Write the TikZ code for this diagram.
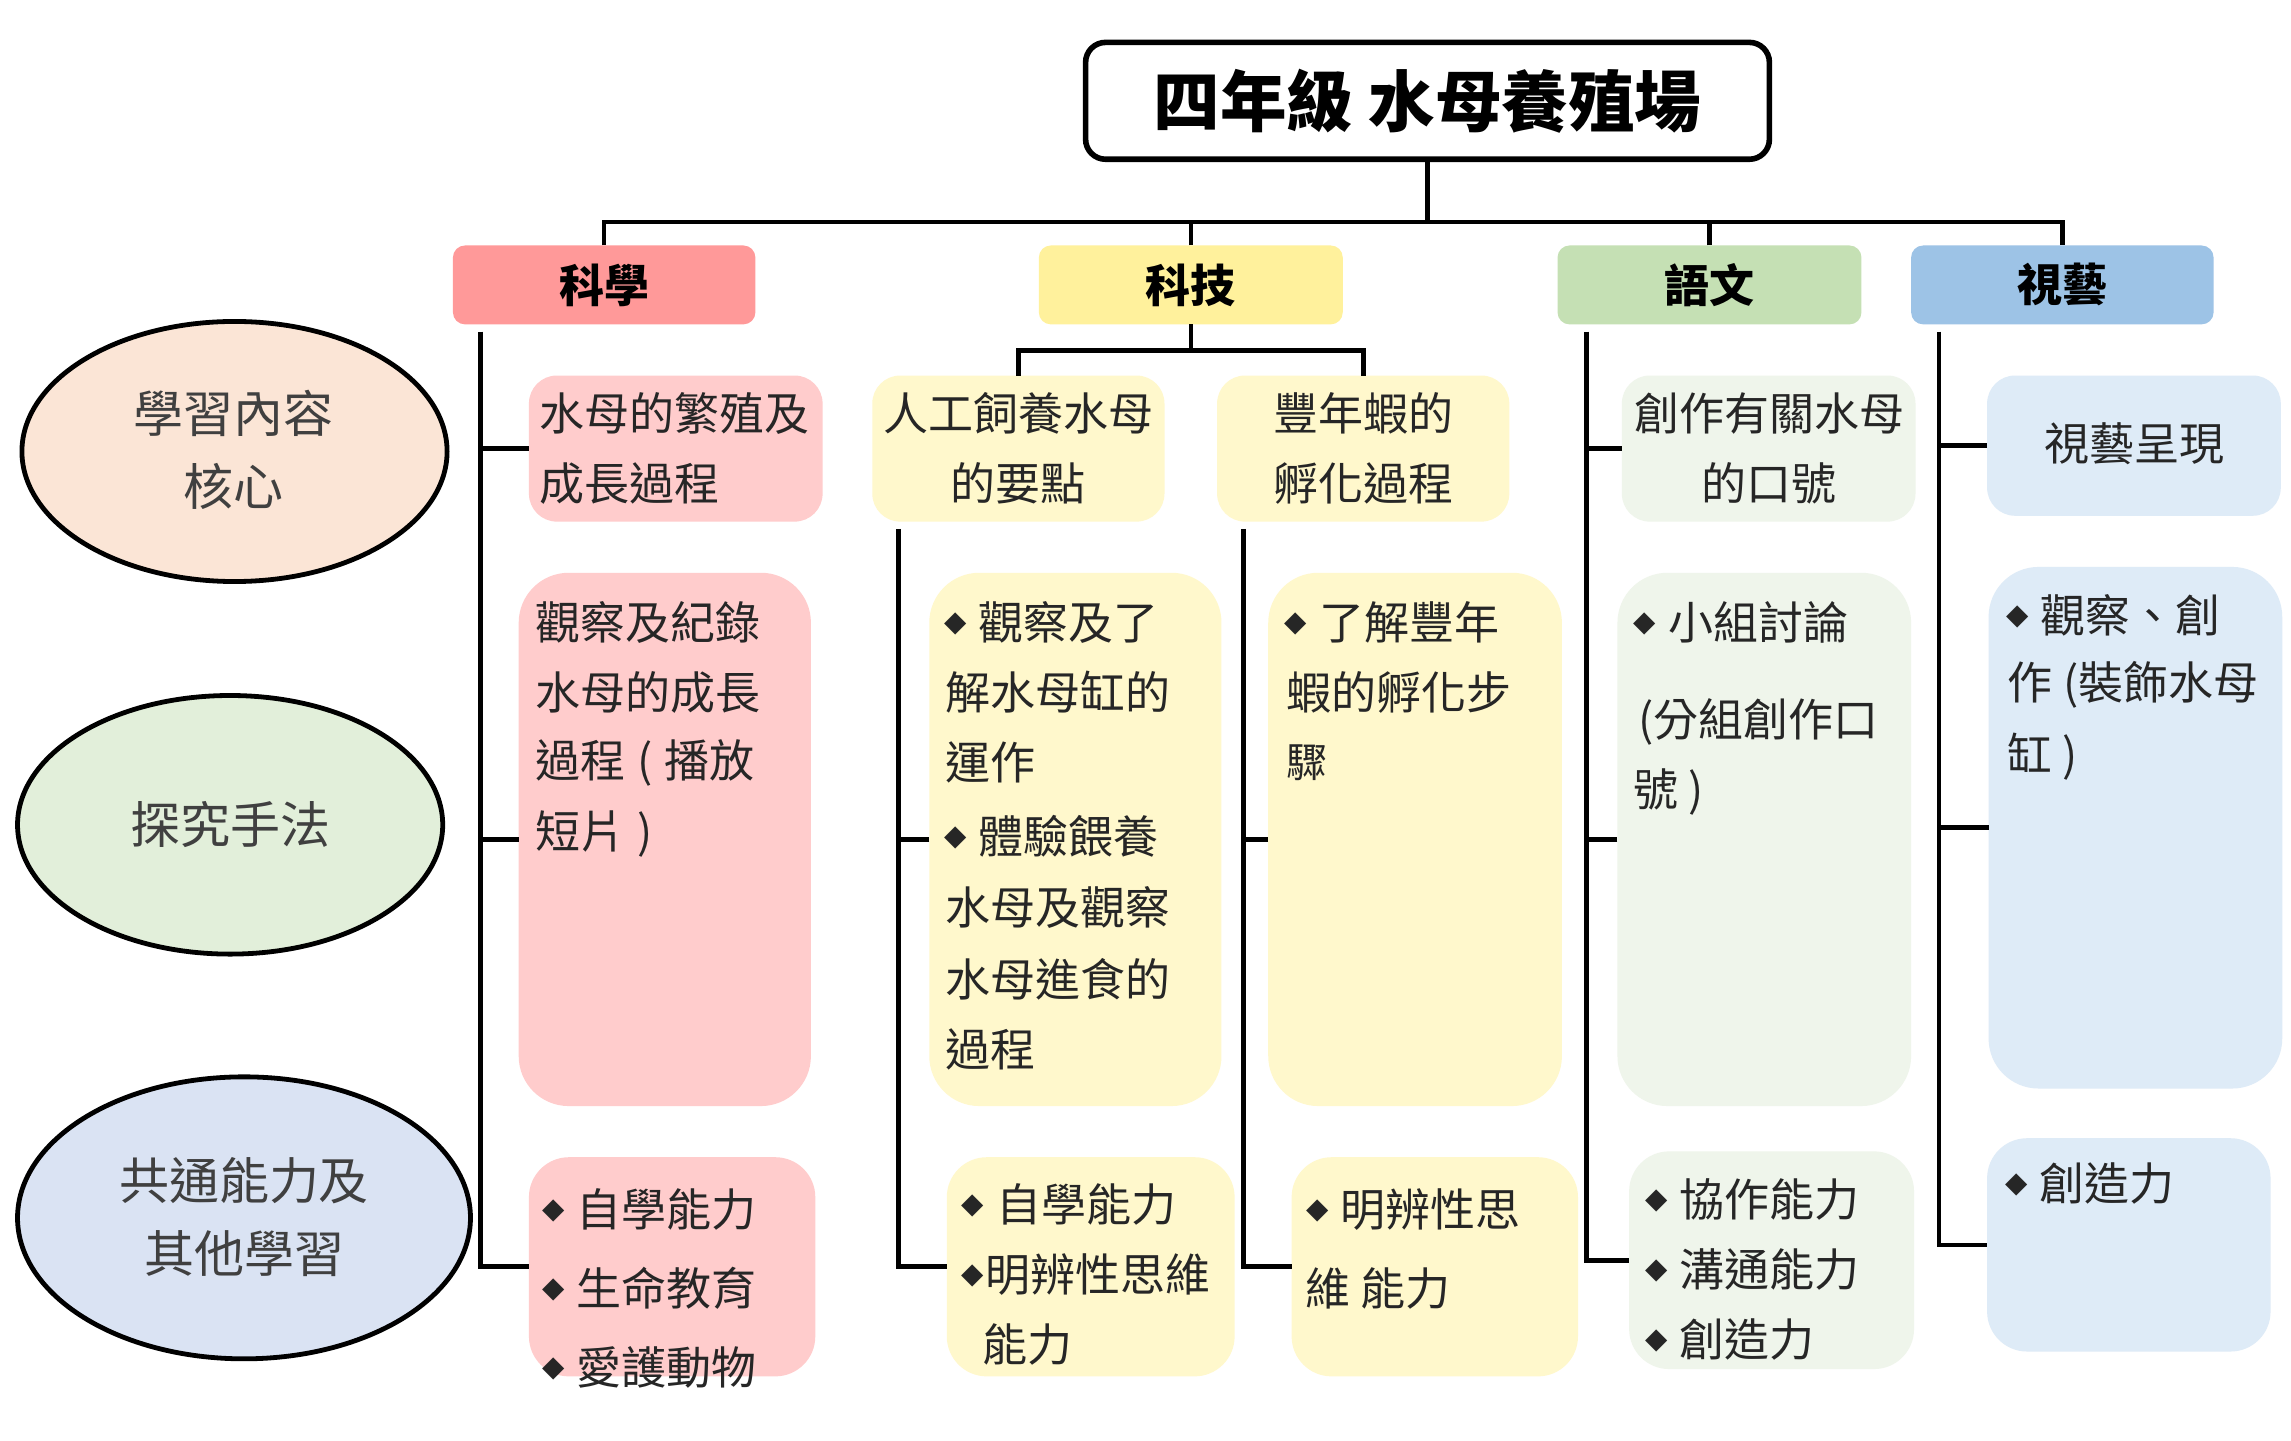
\documentclass[tikz,border=0pt]{standalone}
\usepackage{fontspec}
\setmainfont{Noto Sans CJK TC}
\newfontfamily\djv{DejaVu Sans}
\usetikzlibrary{shapes.geometric}
\definecolor{sciH}{HTML}{FF9999}
\definecolor{sciB}{HTML}{FFCCCC}
\definecolor{tecH}{HTML}{FFF19C}
\definecolor{tecB}{HTML}{FFF8CC}
\definecolor{lanH}{HTML}{C5E0B4}
\definecolor{lanB}{HTML}{EFF5EB}
\definecolor{artH}{HTML}{9DC3E6}
\definecolor{artB}{HTML}{DEEBF7}
\definecolor{ellA}{HTML}{FBE5D6}
\definecolor{ellB}{HTML}{E2EFDA}
\definecolor{ellC}{HTML}{DAE3F3}
\definecolor{txtC}{HTML}{262626}
\definecolor{ellT}{HTML}{404040}
\newcommand\mybox[6]{\node[#6, minimum width={(#4-#2)*0.7306pt}, minimum height={(#5-#3)*0.7306pt}] (#1) at ({(#2+#4)/2},{(#3+#5)/2}) {};}
\newcommand\tline[4][]{\node[txt,anchor=west,#1] (#2) at #3 {#4};}
\newcommand\dm{\raisebox{4pt}{\djv\fontsize{14.5pt}{14.5pt}\selectfont ◆}}
\begin{document}
\begin{tikzpicture}[x=0.7306pt,y=-0.7306pt,
  bx/.style={rectangle, inner sep=0pt, outer sep=0pt, draw=none},
  hdr/.style={bx, rounded corners=6pt},
  sbox/.style={bx, rounded corners=14pt},
  bbox/.style={bx, rounded corners=25pt},
  lbox/.style={bx, rounded corners=20pt},
  ell/.style={ellipse, draw=black, line width=2.4pt, inner sep=0pt},
  txt/.style={inner sep=0pt, text=txtC, font=\fontsize{22.5pt}{27pt}\selectfont},
  htxt/.style={inner sep=0pt, text=black, font=\fontsize{22.5pt}{27pt}\selectfont\bfseries},
  etxt/.style={inner sep=0pt, text=ellT, font=\fontsize{25pt}{30pt}\selectfont},
  conn/.style={draw=black, line width=2.3pt}
]
\useasboundingbox (0,0) rectangle (1568,986);
\fill[white] (0,0) rectangle (1568,986);

% title
\node[rectangle, draw=black, line width=2.8pt, rounded corners=10pt, fill=white,
  minimum width={468*0.7306pt}, minimum height={80*0.7306pt}, inner sep=0pt]
  (title) at (977,69) {};
\node[inner sep=0pt, text=black, font=\fontsize{33.3pt}{40pt}\selectfont\bfseries] (titleT) at (977,69) {四年級 水母養殖場};

% headers
\mybox{sci}{310}{168}{517}{222}{hdr, fill=sciH}
\mybox{tec}{711}{168}{919}{222}{hdr, fill=tecH}
\mybox{lan}{1066}{168}{1274}{222}{hdr, fill=lanH}
\mybox{art}{1308}{168}{1515}{222}{hdr, fill=artH}
\node[htxt] (sciT) at (sci) {科學};
\node[htxt] (tecT) at (tec) {科技};
\node[htxt] (lanT) at (lan) {語文};
\node[htxt] (artT) at (art) {視藝};

% ellipses
\node[ell, fill=ellA, minimum width={291*0.7306pt}, minimum height={178*0.7306pt}] (e1) at (160.5,309) {};
\node[ell, fill=ellB, minimum width={291*0.7306pt}, minimum height={177*0.7306pt}] (e2) at (157.5,564.5) {};
\node[ell, fill=ellC, minimum width={310*0.7306pt}, minimum height={193*0.7306pt}] (e3) at (167,833.5) {};
\node[etxt] (e1a) at (160,283) {學習內容};
\node[etxt] (e1b) at (160,333) {核心};
\node[etxt] (e2a) at (158,564) {探究手法};
\node[etxt] (e3a) at (167,808) {共通能力及};
\node[etxt] (e3b) at (167,858) {其他學習};

% science boxes
\mybox{s1}{362}{257}{563}{357}{sbox, fill=sciB}
\mybox{s2}{355}{392}{555}{757}{bbox, fill=sciB}
\mybox{s3}{362}{792}{558}{942}{lbox, fill=sciB}
% technology boxes
\mybox{t1}{597}{257}{797}{357}{sbox, fill=tecB}
\mybox{t2}{833}{257}{1033}{357}{sbox, fill=tecB}
\mybox{t3}{636}{392}{836}{757}{bbox, fill=tecB}
\mybox{t4}{648}{792}{845}{942}{lbox, fill=tecB}
\mybox{t5}{868}{392}{1069}{757}{bbox, fill=tecB}
\mybox{t6}{884}{792}{1080}{942}{lbox, fill=tecB}
% language boxes
\mybox{l1}{1110}{257}{1311}{357}{sbox, fill=lanB}
\mybox{l2}{1107}{392}{1308}{757}{bbox, fill=lanB}
\mybox{l3}{1115}{788}{1310}{937}{lbox, fill=lanB}
% art boxes
\mybox{a1}{1360}{257}{1561}{353}{sbox, fill=artB}
\mybox{a2}{1361}{388}{1562}{745}{bbox, fill=artB}
\mybox{a3}{1360}{779}{1554}{925}{lbox, fill=artB}

% connectors: title to headers
\coordinate (bar) at (0,152);
\draw[conn] (title.south) -- (title.south |- bar);
\draw[conn] (sci.north) -- (sci.north |- bar) -- (art.north |- bar) -- (art.north);
\draw[conn] (tec.north) -- (tec.north |- bar);
\draw[conn] (lan.north) -- (lan.north |- bar);
% technology split
\coordinate (tbar) at (0,240);
\draw[conn] (tec.south) -- (tec.south |- tbar);
\draw[conn] (t1.north) -- (t1.north |- tbar) -- (t2.north |- tbar) -- (t2.north);

% column lines
\coordinate (sciTop) at (329,227);
\draw[conn] (sciTop) |- (s3.west);
\draw[conn] (s1.west) -- (s1.west -| sciTop);
\draw[conn] (s2.west) -- (s2.west -| sciTop);

\coordinate (t1Top) at (615,362);
\draw[conn] (t1Top) |- (t4.west);
\draw[conn] (t3.west) -- (t3.west -| t1Top);

\coordinate (t2Top) at (851,362);
\draw[conn] (t2Top) |- (t6.west);
\draw[conn] (t5.west) -- (t5.west -| t2Top);

\coordinate (lanTop) at (1086,227);
\draw[conn] (lanTop) |- (l3.west);
\draw[conn] (l1.west) -- (l1.west -| lanTop);
\draw[conn] (l2.west) -- (l2.west -| lanTop);

\coordinate (artTop) at (1327,227);
\draw[conn] (artTop) |- (a3.west);
\draw[conn] (a1.west) -- (a1.west -| artTop);
\draw[conn] (a2.west) -- (a2.west -| artTop);

% science texts
\tline{s1a}{(369,283)}{水母的繁殖及}
\tline{s1b}{(369,331)}{成長過程}
\tline{s2a}{(366,426)}{觀察及紀錄}
\tline{s2b}{(366,474)}{水母的成長}
\tline{s2c}{(366,522)}{過程\hspace{6pt}(\hspace{6pt}播放}
\tline{s2d}{(366,571)}{短片\hspace{6pt})}
\tline{s3a}{(371,828)}{\dm\hspace{6pt}自學能力}
\tline{s3b}{(371,882)}{\dm\hspace{6pt}生命教育}
\tline{s3c}{(371,936)}{\dm\hspace{6pt}愛護動物}

% technology texts
\tline[anchor=center]{t1a}{(697,283)}{人工飼養水母}
\tline[anchor=center]{t1b}{(697,331)}{的要點}
\tline[anchor=center]{t2a}{(933,283)}{豐年蝦的}
\tline[anchor=center]{t2b}{(933,331)}{孵化過程}
\tline{t3a}{(646,426)}{\dm\hspace{6pt}觀察及了}
\tline{t3b}{(647,474)}{解水母缸的}
\tline{t3c}{(647,522)}{運作}
\tline{t3d}{(646,572)}{\dm\hspace{6pt}體驗餵養}
\tline{t3e}{(647,621)}{水母及觀察}
\tline{t3f}{(647,670)}{水母進食的}
\tline{t3g}{(647,718)}{過程}
\tline{t4a}{(658,824)}{\dm\hspace{6pt}自學能力}
\tline{t4b}{(658,872)}{\dm\hspace{0.5pt}明辨性思維}
\tline{t4c}{(672,920)}{能力}
\tline{t5a}{(879,426)}{\dm\hspace{6pt}了解豐年}
\tline{t5b}{(880,474)}{蝦的孵化步}
\tline[font=\fontsize{20.5pt}{24pt}\selectfont]{t5c}{(880,522)}{驟}
\tline{t6a}{(894,828)}{\dm\hspace{6pt}明辨性思}
\tline{t6b}{(893,882)}{維 能力}

% language texts
\tline[anchor=center]{l1a}{(1211,283)}{創作有關水母}
\tline[anchor=center]{l1b}{(1211,331)}{的口號}
\tline{l2a}{(1118,426)}{\dm\hspace{6pt}小組討論}
\tline{l2b}{(1121,494)}{(分組創作口}
\tline{l2c}{(1118,542)}{號\hspace{5pt})}
\tline{l3a}{(1126,821)}{\dm\hspace{6pt}協作能力}
\tline{l3b}{(1126,869)}{\dm\hspace{6pt}溝通能力}
\tline{l3c}{(1126,917)}{\dm\hspace{6pt}創造力}

% art texts
\tline[anchor=center]{a1a}{(1461,304)}{視藝呈現}
\tline{a2a}{(1373,421)}{\dm\hspace{6pt}觀察、創}
\tline{a2b}{(1374,469)}{作 (裝飾水母}
\tline{a2c}{(1374,518)}{缸\hspace{5pt})}
\tline{a3a}{(1372,810)}{\dm\hspace{6pt}創造力}
\end{tikzpicture}
\end{document}
